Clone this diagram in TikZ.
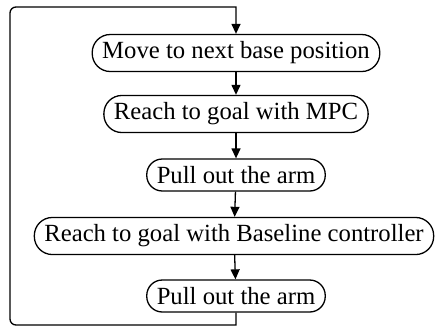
\documentclass[tikz,border=0pt]{standalone}
\usepackage{fontspec}
\setmainfont{Liberation Serif}
\usetikzlibrary{arrows.meta,calc}
\begin{document}
\begin{tikzpicture}[x=1bp,y=-1bp,
  flowline/.style={line width=1.3bp},
  arr/.style={flowline,-{Triangle[length=10bp,width=9bp]}},
  stepbox/.style={draw,line width=1.3bp,rounded corners=#1,inner xsep=10bp,inner ysep=7.3bp,
    font=\fontsize{24.7bp}{28bp}\selectfont},
  stepbox/.default=18bp]
\useasboundingbox (0,0) rectangle (435,327);
\node[stepbox] (n1) at (236,53) {Move to next base position};
\node[stepbox] (n2) at (236,114) {Reach to goal with MPC};
\node[stepbox=15.5bp] (n3) at (236,175) {Pull out the arm};
\node[stepbox] (n4) at (234,236) {Reach to goal with Baseline controller};
\node[stepbox=15.5bp] (n5) at (236,296) {Pull out the arm};
\coordinate (br) at (236,325);
\coordinate (bl) at (10,325);
\coordinate (tl) at (10,7);
\coordinate (tr) at (236,7);
\draw[arr] (n1) -- (n2);
\draw[arr] (n2) -- (n3);
\draw[arr] (n3) -- (n4);
\draw[arr] (n4) -- (n5);
\draw[arr] (n5.south) -- (br) [rounded corners=6bp] -- (bl) -- (tl) [sharp corners] -- (tr) -- (n1.north);
\end{tikzpicture}
\end{document}
